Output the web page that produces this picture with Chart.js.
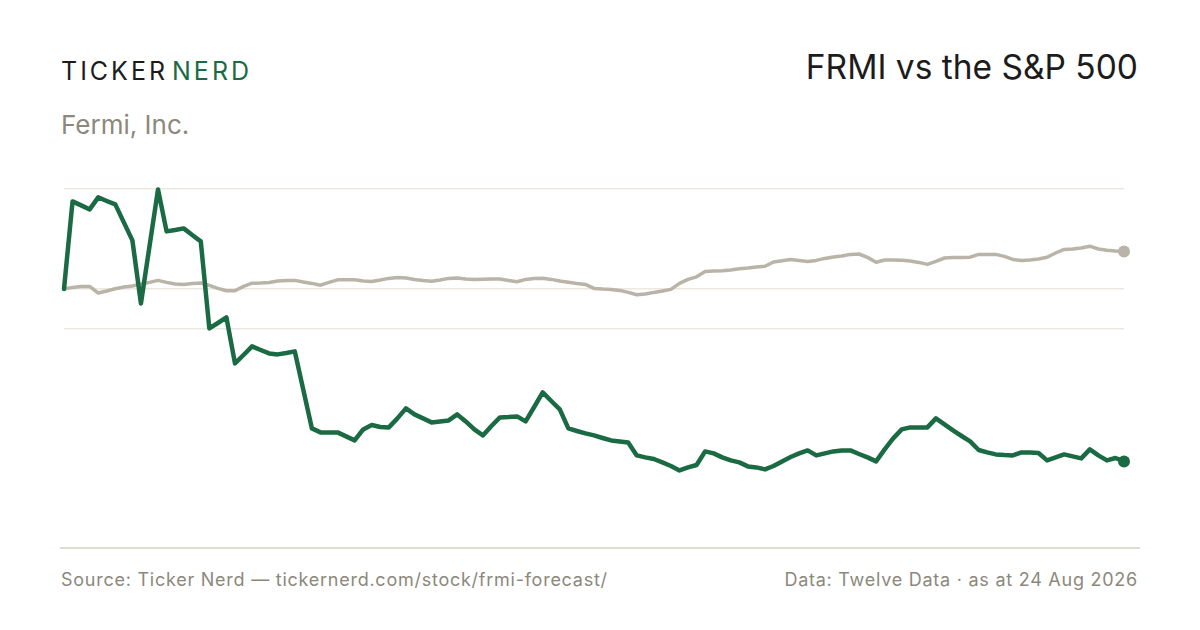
<!DOCTYPE html>
<html>
<head>
<meta charset="utf-8">
<script src="https://cdn.jsdelivr.net/npm/chart.js@4.4.1/dist/chart.umd.min.js"></script>
<style>
  html, body { margin: 0; padding: 0; background: #ffffff; }
  body { width: 1200px; height: 630px; position: relative; overflow: hidden; font-family: "Inter", "Liberation Sans", sans-serif; }
  .brand { position: absolute; left: 61px; top: 56px; font-size: 25px; letter-spacing: 3px; color: #1c1c1c; line-height: 30px; white-space: nowrap; }
  .brand .nerd { color: #1a6b43; margin-left: 4px; }
  .company { position: absolute; left: 61px; top: 110px; font-size: 26px; color: #8c887c; line-height: 30px; }
  .title { position: absolute; right: 62px; top: 47px; font-size: 33.5px; color: #1c1c1c; line-height: 40px; white-space: nowrap; }
  .rule { position: absolute; left: 60px; top: 547px; width: 1080px; height: 2px; background: #e0dcd2; }
  .foot { position: absolute; top: 569px; font-size: 18px; letter-spacing: 0.75px; color: #8c887c; line-height: 22px; white-space: nowrap; }
  .foot.left { left: 61px; }
  .foot.right { right: 62px; }
  .chartwrap { position: absolute; left: 44px; top: 169px; width: 1100px; height: 390px; }
</style>
</head>
<body>
<div class="brand">TICKER<span class="nerd">NERD</span></div>
<div class="company">Fermi, Inc.</div>
<div class="title">FRMI vs the S&amp;P 500</div>
<div class="chartwrap"><canvas id="c"></canvas></div>
<div class="rule"></div>
<div class="foot left">Source: Ticker Nerd — tickernerd.com/stock/frmi-forecast/</div>
<div class="foot right">Data: Twelve Data · as at 24 Aug 2026</div>
<script>
// Rebased performance (start = 100), 125 sample points
const frmiValues = [
  100.0, 143.8, 141.8, 139.8, 145.8, 144.0, 142.3, 133.3, 124.3, 92.8,
  121.3, 149.8, 128.8, 129.5, 130.3, 127.0, 123.8, 80.3, 83.0, 85.8,
  62.8, 67.0, 71.3, 69.5, 67.8, 67.3, 68.0, 68.8, 49.5, 30.3,
  28.3, 28.3, 28.3, 26.3, 24.3, 29.8, 32.0, 31.0, 30.8, 35.3,
  40.3, 37.3, 35.3, 33.3, 33.8, 34.3, 37.3, 33.8, 29.8, 26.8,
  31.5, 35.8, 36.0, 36.3, 33.8, 41.0, 48.3, 44.0, 39.8, 30.3,
  29.0, 27.8, 26.8, 25.5, 24.3, 23.8, 23.3, 16.8, 15.8, 15.0,
  13.3, 11.5, 9.3, 10.8, 12.0, 18.8, 17.8, 15.8, 14.3, 13.3,
  11.3, 10.8, 9.8, 11.5, 13.8, 16.0, 17.8, 19.3, 16.8, 17.8,
  18.8, 19.3, 19.3, 17.5, 15.8, 13.8, 19.8, 25.3, 29.8, 30.8,
  30.8, 30.8, 35.3, 32.3, 29.3, 26.5, 23.8, 19.5, 18.3, 17.3,
  17.0, 16.8, 18.3, 18.3, 18.0, 14.3, 15.8, 17.3, 16.3, 15.3,
  19.8, 16.8, 14.3, 15.5, 13.8
];
const spxValues = [
  100.0, 100.8, 101.3, 101.3, 98.0, 99.0, 100.1, 101.0, 101.5, 102.5,
  103.3, 104.3, 103.3, 102.5, 102.3, 102.8, 103.0, 101.8, 100.3, 99.1,
  99.1, 101.3, 102.9, 103.0, 103.3, 104.0, 104.2, 104.3, 103.5, 102.8,
  101.9, 103.3, 104.6, 104.6, 104.6, 104.0, 103.8, 104.5, 105.3, 105.8,
  105.5, 104.8, 104.3, 103.9, 104.5, 105.3, 105.5, 105.0, 104.8, 104.9,
  105.0, 105.0, 104.3, 103.6, 104.8, 105.3, 105.4, 104.8, 104.0, 103.4,
  102.8, 102.3, 100.3, 100.0, 99.8, 99.3, 98.3, 97.1, 97.5, 98.3,
  99.0, 99.8, 102.8, 104.8, 106.1, 108.8, 109.0, 109.1, 109.5, 110.1,
  110.5, 111.0, 111.4, 113.5, 114.1, 114.8, 114.3, 113.8, 114.3, 115.3,
  116.0, 116.5, 117.3, 117.5, 115.8, 113.4, 114.5, 114.5, 114.4, 114.0,
  113.3, 112.3, 113.8, 115.5, 115.7, 115.8, 115.9, 117.3, 117.3, 117.3,
  116.3, 114.8, 114.3, 114.5, 115.0, 115.9, 118.0, 119.8, 120.0, 120.5,
  121.4, 120.0, 119.4, 119.0, 118.8
];
const categories = frmiValues.map((_, i) => i + 1);
const gridValues = [150, 100, 80];
const yMin = -25;
const yMax = 150;

const lastIdx = frmiValues.length - 1;
const GREEN = '#1a6b43';
const GREY = '#bab3a7';

new Chart(document.getElementById('c'), {
  type: 'line',
  data: {
    labels: categories,
    datasets: [
      {
        label: 'FRMI',
        data: frmiValues,
        borderColor: GREEN,
        backgroundColor: GREEN,
        borderWidth: 4.5,
        tension: 0,
        clip: false,
        borderJoinStyle: 'round',
        borderCapStyle: 'round',
        pointRadius: ctx => ctx.dataIndex === lastIdx ? 6 : 0,
        pointBackgroundColor: GREEN,
        pointBorderWidth: 0,
        pointHoverRadius: 0
      },
      {
        label: 'S&P 500',
        data: spxValues,
        borderColor: GREY,
        backgroundColor: GREY,
        borderWidth: 3.5,
        tension: 0,
        clip: false,
        borderJoinStyle: 'round',
        borderCapStyle: 'round',
        pointRadius: ctx => ctx.dataIndex === lastIdx ? 6 : 0,
        pointBackgroundColor: GREY,
        pointBorderWidth: 0,
        pointHoverRadius: 0
      }
    ]
  },
  options: {
    responsive: true,
    maintainAspectRatio: false,
    animation: false,
    layout: { padding: { left: 20, right: 20, top: 20, bottom: 20 } },
    plugins: { legend: { display: false }, tooltip: { enabled: false } },
    scales: {
      x: { display: false, offset: false },
      y: {
        display: true,
        min: yMin,
        max: yMax,
        afterBuildTicks: axis => { axis.ticks = gridValues.map(v => ({ value: v })); },
        ticks: { display: false },
        border: { display: false },
        grid: { color: '#ece8e1', lineWidth: 1.5, drawTicks: false }
      }
    }
  }
});
</script>
</body>
</html>
